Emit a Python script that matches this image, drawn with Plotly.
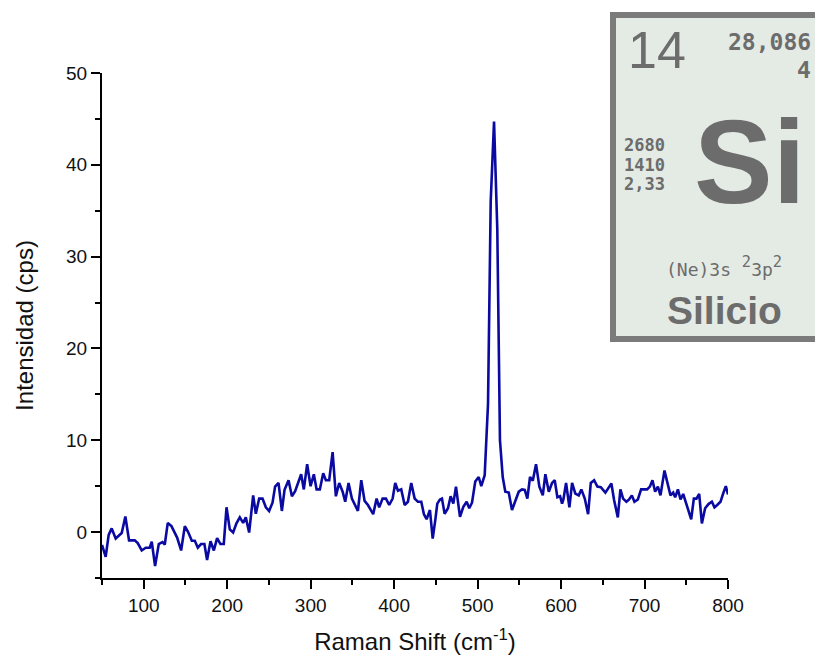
import plotly.graph_objects as go

# ---- data ----
raman_shift = [
    50, 54.4, 58, 61.6, 66.4, 73.6, 78, 82.4, 89.2, 92.8, 97.6, 102.4, 107.2, 109.6, 113.6,
    118, 122.4, 125.2, 128.8, 133.2, 140, 144.8, 149.2, 153.2, 157.6, 161.2, 164.8, 168.7,
    172.7, 175.9, 180, 184, 187.9, 191.9, 195.9, 199.2, 203.1, 207.1, 211.1, 215.1, 219.1,
    222.3, 226.3, 231.1, 234.3, 238.3, 242.3, 246.3, 250.2, 254.3, 257.4, 261.5, 265.5,
    268.7, 273.5, 277.5, 281.4, 287, 288.6, 291.8, 295.8, 299.9, 303.8, 307.1, 311, 315,
    318.2, 322.2, 326.3, 330.2, 334.2, 338.3, 341.4, 345.4, 349.4, 356.6, 360.6, 364.6,
    368.6, 374.9, 379, 382.1, 386.2, 390.2, 394.1, 398.2, 401.3, 404.6, 408.5, 412.6,
    416.5, 420.5, 424.6, 428.5, 432.5, 435.7, 438.9, 442.9, 446.2, 449.3, 451.7, 454.9,
    457.3, 460.5, 464.5, 467.7, 470.9, 474.1, 476.5, 478.9, 482.9, 486.9, 490, 493.3,
    497.2, 501.3, 504.4, 508.5, 512.5, 515.7, 519.7, 523.6, 526.8, 530.1, 533.2, 537.3,
    541.2, 545.2, 549.3, 553.2, 556.5, 559.6, 562.8, 566.1, 570, 574, 578.1, 581.2, 585.3,
    589.2, 592.4, 595.6, 598.8, 601.2, 602.8, 606, 610, 613.2, 617.1, 621.2, 624.3, 628.4,
    632.4, 635.6, 639.6, 643.5, 647.6, 653.1, 657.2, 660.3, 663.5, 668, 671.1, 674.3,
    678.3, 681.5, 684.8, 687.9, 692, 695.9, 703.1, 706.4, 709.5, 712.7, 716, 719.1, 723.9,
    728, 731.1, 734.3, 736.7, 740, 743.1, 746.3, 749.5, 752.6, 755.9, 759.1, 762.2, 765.5,
    768.7, 772.6, 776.6, 780.7, 783.8, 787.1, 791, 794.2, 797.4, 800,
]
intensity = [
    -1.4, -2.7, -0.3, 0.4, -0.7, -0.1, 1.7, -0.9, -0.9, -1.2, -2.0, -1.7, -1.7, -1.05, -3.7,
    -1.3, -1.1, -1.35, 1.0, 0.65, -0.6, -2.0, 0.65, 0.0, -0.95, -0.95, -1.7, -1.3,
    -1.3, -3.05, -1.0, -2.0, -0.65, -1.3, -1.3, 2.7, 0.3, -0.05, 0.95, 1.6, 1.0,
    1.6, -0.05, 4.0, 2.0, 3.65, 3.65, 2.7, 2.3, 3.2, 4.95, 5.35, 2.3,
    4.6, 5.65, 3.9, 4.45, 5.75, 6.3, 4.65, 7.4, 5.0, 6.3, 4.65, 4.65, 6.4,
    5.65, 5.65, 8.7, 3.9, 5.35, 4.4, 3.3, 5.35, 3.65, 2.3, 5.65, 3.4,
    2.95, 1.95, 3.65, 2.7, 3.65, 3.65, 2.95, 3.65, 5.35, 4.5, 4.65, 2.95,
    3.3, 5.35, 3.65, 3.3, 3.3, 1.95, 1.4, 2.4, -0.7, 1.3, 3.1, 3.55,
    3.65, 2.0, 2.6, 3.9, 3.1, 4.95, 3.1, 1.65, 2.75, 3.3, 2.6, 3.2,
    5.5, 6.0, 5.0, 6.2, 14.0, 36.0, 44.7, 33.0, 10.0, 6.0, 4.4, 4.3,
    2.4, 3.5, 4.4, 4.65, 4.6, 3.65, 6.0, 5.6, 7.4, 4.95, 4.0, 6.3, 4.4,
    5.35, 5.65, 3.8, 3.9, 3.1, 3.55, 5.35, 2.7, 5.35, 4.2, 4.0, 4.65, 3.65,
    1.95, 5.35, 5.65, 4.95, 4.9, 4.3, 4.95, 5.3, 3.5, 1.6, 4.65, 3.65,
    3.3, 3.55, 4.0, 3.3, 3.55, 4.65, 4.65, 4.95, 5.65, 4.4, 4.95, 4.0, 6.7,
    5.3, 4.0, 4.3, 3.8, 4.65, 3.55, 4.15, 3.2, 2.2, 1.4, 3.65, 3.65, 4.15,
    0.95, 2.6, 3.05, 3.3, 2.7, 2.95, 3.3, 4.2, 5.0, 4.1,
]

x_title = "Raman Shift (cm<sup>-1</sup>)"
y_title = "Intensidad (cps)"

# element card texts
card_number = "14"
card_mass = "28,086"
card_mass2 = "4"
card_props = ["2680", "1410", "2,33"]
card_symbol = "Si"
card_config = ("(Ne)3s <span style='font-size:22px'><sup>2</sup></span>"
               "3p<span style='font-size:22px'><sup>2</sup></span>")
card_name = "Silicio"

W, H = 815, 655
ML, MR, MT, MB = 102, 87, 73, 77
PW, PH = W - ML - MR, H - MT - MB


def px(xp):
    return (xp - ML) / PW


def py(yp):
    return (H - MB - yp) / PH


fig = go.Figure()
fig.add_trace(go.Scatter(
    x=raman_shift, y=intensity, mode="lines",
    line=dict(color="#0a0aa3", width=2.6), showlegend=False,
))

axis_common = dict(
    showline=True, linecolor="black", linewidth=2,
    ticks="outside", ticklen=9, tickwidth=1.5, tickcolor="black",
    showgrid=False, zeroline=False, automargin=False,
    tickfont=dict(family="Liberation Sans, Arial", size=19, color="#111"),
)

fig.update_xaxes(
    range=[50, 800], tick0=0, dtick=100,
    minor=dict(dtick=50, ticks="outside", ticklen=5, tickwidth=1.5, tickcolor="black", showgrid=False),
    title=dict(text=x_title, font=dict(family="Liberation Sans, Arial", size=24, color="#111"), standoff=18),
    **axis_common,
)
fig.update_yaxes(
    range=[-5, 50], tick0=0, dtick=10,
    minor=dict(dtick=5, ticks="outside", ticklen=5, tickwidth=1.5, tickcolor="black", showgrid=False),
    title=dict(text=y_title, font=dict(family="Liberation Sans, Arial", size=24, color="#111"), standoff=26),
    **axis_common,
)

# element card (decoration)
fig.add_shape(type="rect", xref="paper", yref="paper",
              x0=px(613), x1=px(835), y0=py(339), y1=py(15),
              line=dict(color="#7b7b7b", width=6), fillcolor="#e4eae4", layer="above")

gray = "#6c6c6c"
mono = "DejaVu Sans Mono, monospace"
sans = "Liberation Sans, Arial"


def ann(text, x, y, xa, size, family, bold=False, ya="middle"):
    fig.add_annotation(
        text=f"<b>{text}</b>" if bold else text,
        xref="paper", yref="paper", x=px(x), y=py(y),
        xanchor=xa, yanchor=ya, showarrow=False,
        font=dict(family=family, size=size, color=gray),
    )


ann(card_number, 626, 50, "left", 52, sans)
ann(card_mass, 813, 42, "right", 23, mono, bold=True)
ann(card_mass2, 813, 70, "right", 23, mono, bold=True)
for i, t in enumerate(card_props):
    ann(t, 622, 145 + i * 19.5, "left", 17, mono, bold=True)
ann(card_symbol, 750, 162, "center", 118, sans, bold=True)
ann(card_config, 724, 266, "center", 18, mono)
ann(card_name, 724, 310, "center", 39, sans, bold=True)

fig.update_layout(
    width=W, height=H, autosize=False,
    margin=dict(l=ML, r=MR, t=MT, b=MB),
    plot_bgcolor="white", paper_bgcolor="white",
)

fig.write_html("out.html", config={"displayModeBar": False},
               post_script="document.body.style.margin='0px';")
